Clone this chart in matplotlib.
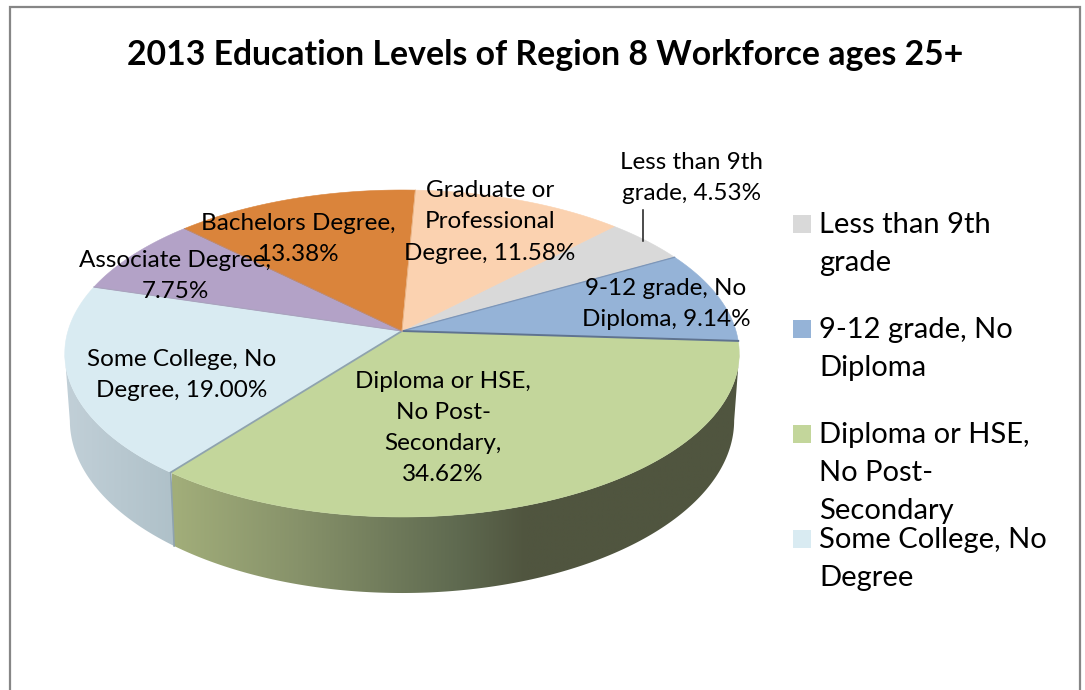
import numpy as np
import matplotlib
matplotlib.use("Agg")
import matplotlib.pyplot as plt
from matplotlib.colors import LinearSegmentedColormap
from matplotlib.patches import Polygon, Rectangle

TITLE = "2013 Education Levels of Region 8 Workforce ages 25+"
categories = ["Less than 9th grade", "9-12 grade, No Diploma", "Diploma or HSE, No Post-Secondary",
              "Some College, No Degree", "Associate Degree", "Bachelors Degree",
              "Graduate or Professional Degree"]
values = [4.53, 9.14, 34.62, 19.00, 7.75, 13.38, 11.58]
colors = ["#D9D9D9", "#95B3D7", "#C3D69B", "#D9EBF2", "#B3A2C7", "#DA843B", "#FBD2B0"]
data_labels = ["Less than 9th\ngrade, 4.53%", "9-12 grade, No\nDiploma, 9.14%",
               "Diploma or HSE,\nNo Post-\nSecondary,\n34.62%", "Some College, No\nDegree, 19.00%",
               "Associate Degree,\n7.75%", "Bachelors Degree,\n13.38%",
               "Graduate or\nProfessional\nDegree, 11.58%"]
label_xy = [(692, 178), (666, 304), (443, 428), (182, 375), (175, 276), (298, 239), (490, 222)]
legend_labels = ["Less than 9th\ngrade", "9-12 grade, No\nDiploma",
                 "Diploma or HSE,\nNo Post-\nSecondary", "Some College, No\nDegree"]
legend_y = [215, 320, 425, 530]

plt.rcParams["font.family"] = ["Lato", "DejaVu Sans"]
fig = plt.figure(figsize=(10.85, 6.9), dpi=100)
ax = fig.add_axes([0, 0, 1, 1])
ax.axis("off")

# Perspective view of a disc
CX, CY, A, B, K = 402.0, 331.0, 334.0, 160.4, 0.1376
START = 44.3
BOTTOM = (0.985, 1.056, 396.6)


def rim(deg, sx=1.0, sy=1.0, cy=CY):
    t = np.radians(deg)
    X, Y = np.sin(t), np.cos(t)
    w = 1 + K * Y
    return CX + sx * A * X / w, cy + sy * B * (-Y) / w


edges = START + 360 * np.cumsum([0] + values) / sum(values)

# Side wall, shaded along x; each wall stops at the silhouette tangent of the rim
wall_maps = {
    2: (LinearSegmentedColormap.from_list("g", [(0, "#A2AE7A"), (0.22, "#87926A"), (0.5, "#5F6A50"),
                                                (0.62, "#50553F"), (1, "#50553F")]), 172, 742),
    3: (LinearSegmentedColormap.from_list("b", ["#C2D0D8", "#AEC0C8"]), 62, 180),
}
ramp = np.linspace(0, 1, 256).reshape(1, -1)
for i, (cmap, xa, xb) in wall_maps.items():
    th = np.arange(edges[i], edges[i + 1] + 0.25, 0.25)
    th = th[np.cos(np.radians(th)) < -K]
    x0, y0 = rim(th)
    x1, y1 = rim(th, *BOTTOM)
    outline = np.column_stack([np.r_[x0, x1[::-1]], np.r_[y0, y1[::-1]]])
    im = ax.imshow(ramp, cmap=cmap, extent=(xa, xb, 610, 330), aspect="auto", zorder=1,
                   interpolation="bilinear")
    clip = Polygon(outline, closed=True, transform=ax.transData, facecolor="none", edgecolor="none")
    ax.add_patch(clip)
    im.set_clip_path(clip)

ax.set_xlim(0, 1085)
ax.set_ylim(690, 0)

# Wall seam between Diploma and Some College
sx0, sy0 = rim(edges[3])
sx1, sy1 = rim(edges[3], *BOTTOM)
ax.plot([sx0, sx1], [sy0, sy1], color="#8FA3AE", lw=1.2, zorder=2)

# Top faces
for i, col in enumerate(colors):
    th = np.linspace(edges[i], edges[i + 1], 120)
    x, y = rim(th)
    pts = np.column_stack([np.r_[CX, x], np.r_[CY, y]])
    ax.add_patch(Polygon(pts, closed=True, facecolor=col, edgecolor=col, lw=0.4, zorder=3))

# Spokes
for e, col, lw in zip(edges[1:-1], ["#7D96B8", "#5F7390", "#8FA3AE", "#A9A3BE", "#B98A77", "#E5AE7E"],
                      [0.9, 1.4, 1.3, 0.8, 0.6, 0.6]):
    x, y = rim(e)
    ax.plot([CX, x], [CY, y], color=col, lw=lw, zorder=4)

# Frame (no bottom edge)
ax.plot([10, 10, 1080, 1080], [690, 7, 7, 690], color="#868686", lw=1.6, zorder=5,
        solid_joinstyle="miter")

ax.text(545, 55, TITLE, ha="center", va="center", fontsize=24.3, fontweight="bold", color="black", zorder=6)

# Leader
ax.plot([643, 643], [210, 241], color="#1a1a1a", lw=1.1, zorder=6)

for s, (x, y) in zip(data_labels, label_xy):
    ax.text(x, y, s, ha="center", va="center", multialignment="center", fontsize=17.5,
            linespacing=1.6, color="black", zorder=7)

for col, s, y in zip(colors, legend_labels, legend_y):
    ax.add_patch(Rectangle((793, y), 18, 18, facecolor=col, edgecolor="none", zorder=6))
    ax.text(819, y - 3, s, ha="left", va="top", fontsize=21, linespacing=1.58, color="black", zorder=7)

fig.savefig("out.png", dpi=100, facecolor="white")
